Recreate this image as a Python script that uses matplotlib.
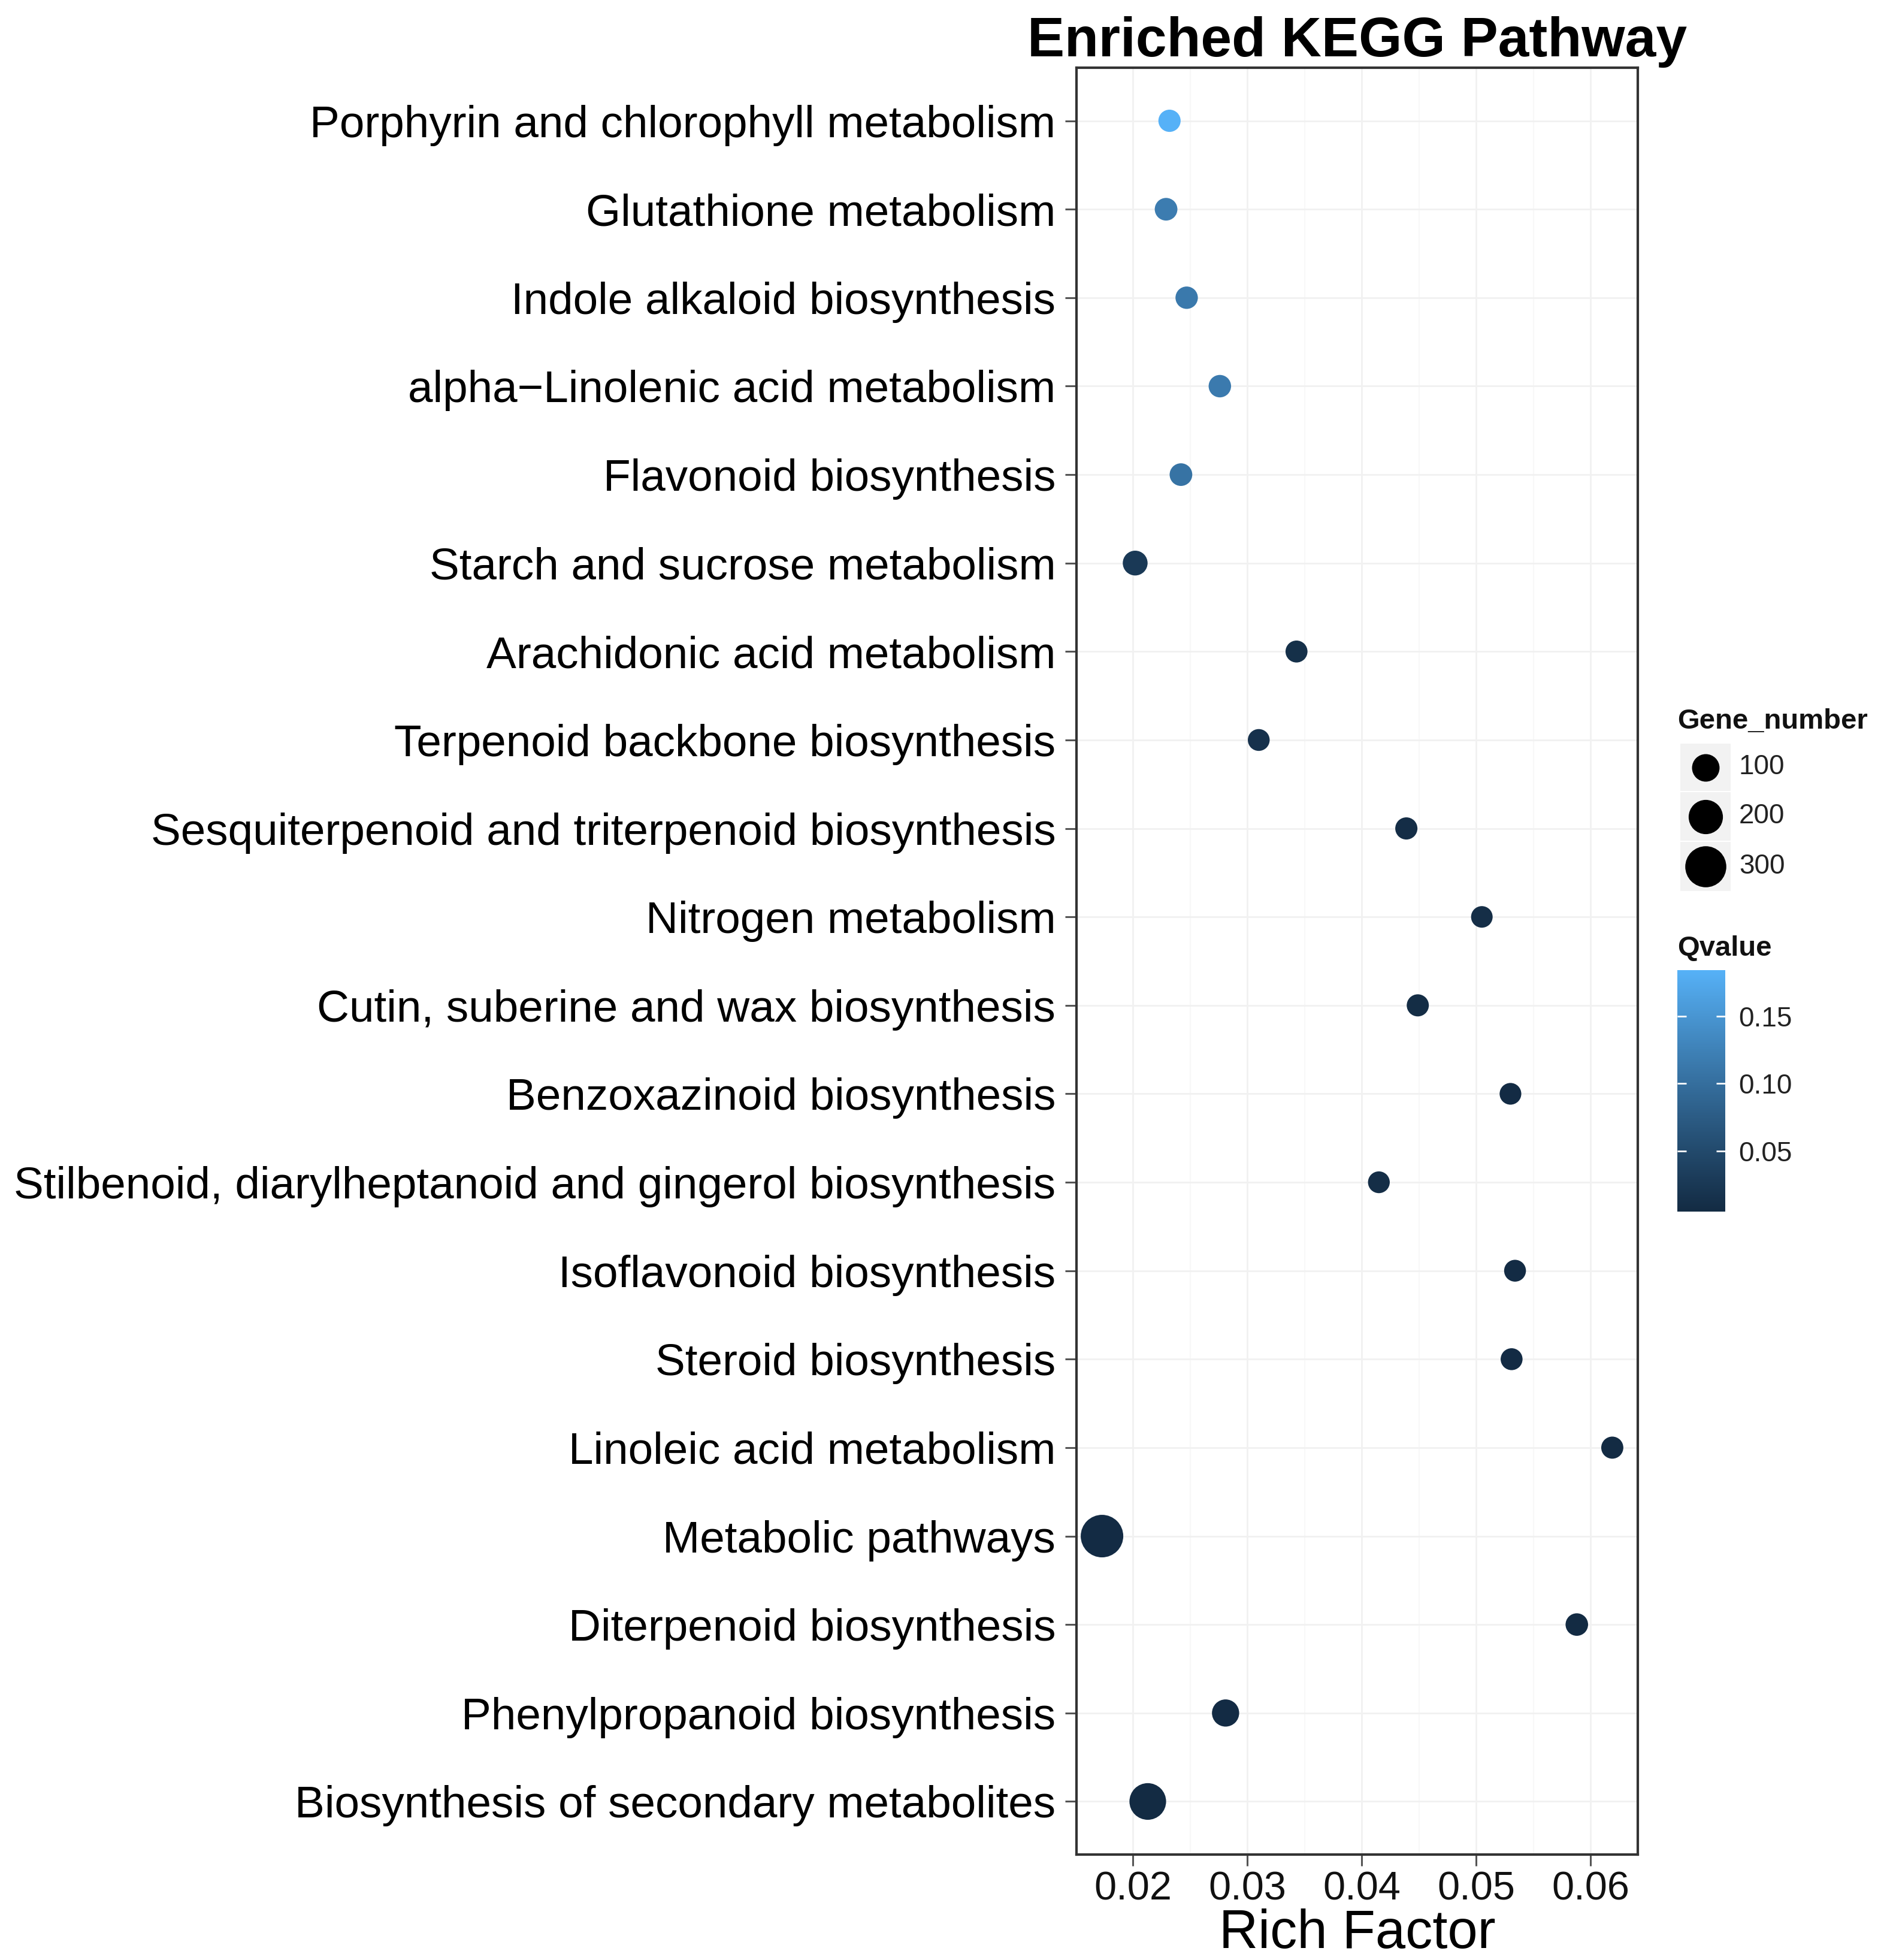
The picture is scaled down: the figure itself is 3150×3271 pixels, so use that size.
import numpy as np
import matplotlib
matplotlib.use("Agg")
import matplotlib.pyplot as plt
import matplotlib.colors as mcolors
from matplotlib.patches import Rectangle

plt.rcParams["font.family"] = ["Liberation Sans", "DejaVu Sans"]

# pathways, top to bottom
pathways = [
    "Porphyrin and chlorophyll metabolism",
    "Glutathione metabolism",
    "Indole alkaloid biosynthesis",
    "alpha\u2212Linolenic acid metabolism",
    "Flavonoid biosynthesis",
    "Starch and sucrose metabolism",
    "Arachidonic acid metabolism",
    "Terpenoid backbone biosynthesis",
    "Sesquiterpenoid and triterpenoid biosynthesis",
    "Nitrogen metabolism",
    "Cutin, suberine and wax biosynthesis",
    "Benzoxazinoid biosynthesis",
    "Stilbenoid, diarylheptanoid and gingerol biosynthesis",
    "Isoflavonoid biosynthesis",
    "Steroid biosynthesis",
    "Linoleic acid metabolism",
    "Metabolic pathways",
    "Diterpenoid biosynthesis",
    "Phenylpropanoid biosynthesis",
    "Biosynthesis of secondary metabolites",
]
rich_factor = [0.0232, 0.0229, 0.0247, 0.0276, 0.0242, 0.0202, 0.0343, 0.0310,
               0.0439, 0.0505, 0.0449, 0.0530, 0.0415, 0.0534, 0.0531, 0.0619,
               0.0173, 0.0588, 0.0281, 0.0213]
qvalue = [0.184, 0.118, 0.114, 0.116, 0.106, 0.026, 0.012, 0.015,
          0.009, 0.010, 0.008, 0.006, 0.010, 0.006, 0.006, 0.005,
          0.006, 0.005, 0.006, 0.0049]
gene_number = [22, 28, 24, 25, 28, 60, 18, 16, 21, 12, 20, 14, 15, 16, 17, 20,
               322, 26, 95, 235]

size_breaks = [100, 200, 300]
q_breaks = [0.05, 0.10, 0.15]

W, H, DPI = 3150, 3271, 100


# ggplot-like gradient (#132B43 -> #56B1F7) interpolated in CIELAB
def to_lab(c):
    rgb = np.array(mcolors.to_rgb(c))
    lin = np.where(rgb <= 0.04045, rgb / 12.92, ((rgb + 0.055) / 1.055) ** 2.4)
    m = np.array([[0.4124, 0.3576, 0.1805], [0.2126, 0.7152, 0.0722], [0.0193, 0.1192, 0.9505]])
    xyz = m @ lin / np.array([0.95047, 1.0, 1.08883])
    d = 6 / 29
    f = np.where(xyz > d ** 3, np.cbrt(xyz), xyz / (3 * d * d) + 4 / 29)
    return np.array([116 * f[1] - 16, 500 * (f[0] - f[1]), 200 * (f[1] - f[2])])


def from_lab(lab):
    fy = (lab[0] + 16) / 116
    f = np.array([fy + lab[1] / 500, fy, fy - lab[2] / 200])
    d = 6 / 29
    xyz = np.where(f > d, f ** 3, 3 * d * d * (f - 4 / 29)) * np.array([0.95047, 1.0, 1.08883])
    mi = np.array([[3.2406, -1.5372, -0.4986], [-0.9689, 1.8758, 0.0415], [0.0557, -0.2040, 1.0570]])
    lin = mi @ xyz
    rgb = np.where(lin <= 0.0031308, 12.92 * lin, 1.055 * np.clip(lin, 0, None) ** (1 / 2.4) - 0.055)
    return np.clip(rgb, 0, 1)


lo, hi = to_lab("#132B43"), to_lab("#56B1F7")
cmap = mcolors.ListedColormap([from_lab(lo + (hi - lo) * t) for t in np.linspace(0, 1, 256)])

# point size: diameter linear in gene number (px), converted to points^2
gmin, gmax = min(gene_number), max(gene_number)


def dot_area(v):
    d_px = 36 + (71 - 36) * (np.asarray(v, float) - gmin) / (gmax - gmin)
    return (d_px * 72 / DPI) ** 2


fig = plt.figure(figsize=(W / DPI, H / DPI), dpi=DPI)
ax = fig.add_axes([1797 / W, 1 - 3095 / H, (2734 - 1797) / W, (3095 - 113) / H])

ypos = np.arange(len(pathways))[::-1]
sc = ax.scatter(rich_factor, ypos, s=dot_area(gene_number), c=qvalue, cmap=cmap,
                vmin=min(qvalue), vmax=max(qvalue), linewidths=0, zorder=3)

span = max(rich_factor) - min(rich_factor)
ax.set_xlim(min(rich_factor) - 0.05 * span, max(rich_factor) + 0.05 * span)
ax.set_ylim(-0.6, len(pathways) - 0.4)
ax.set_xticks([0.02, 0.03, 0.04, 0.05, 0.06])
ax.set_xticks([0.025, 0.035, 0.045, 0.055], minor=True)
ax.set_xticklabels(["0.02", "0.03", "0.04", "0.05", "0.06"])
ax.set_yticks(ypos)
ax.set_yticklabels(pathways)
ax.set_axisbelow(True)
ax.grid(which="major", color="#F1F1F1", linewidth=2)
ax.grid(which="minor", axis="x", color="#F8F8F8", linewidth=1.5)

ax.tick_params(axis="y", length=14, width=2.2, color="#555555", labelsize=53.8, pad=11, labelcolor="black")
ax.tick_params(axis="x", which="major", length=14, width=2.2, color="#555555", labelsize=48, pad=6, labelcolor="#111111")
ax.tick_params(axis="x", which="minor", length=0)
for sp in ax.spines.values():
    sp.set_color("#333333")
    sp.set_linewidth(3)

ax.set_xlabel("Rich Factor", fontsize=65, labelpad=0)
ax.set_title("Enriched KEGG Pathway", fontsize=67, fontweight="bold", pad=13)

# colour bar for Qvalue
cax = fig.add_axes([2800 / W, 1 - 2022 / H, 80 / W, (2022 - 1619) / H])
cb = fig.colorbar(sc, cax=cax, ticks=q_breaks, format="%.2f")
cb.outline.set_visible(False)
cax.minorticks_off()
cax.tick_params(direction="in", length=11, width=2, color="white", left=True, right=True,
                labelsize=33, labelcolor="#222222", pad=16)

# size legend drawn in figure pixel space
lax = fig.add_axes([0, 0, 1, 1], facecolor="none")
lax.set_xlim(0, W)
lax.set_ylim(H, 0)
lax.axis("off")
lax.text(2800, 1204, "Gene_number", fontsize=34, fontweight="bold", va="center", ha="left", color="#111111")
key_top = [1240, 1321, 1404]
key_bot = [1321, 1404, 1488]
for v, t, b in zip(size_breaks, key_top, key_bot):
    lax.add_patch(Rectangle((2804, t), 86, b - t, facecolor="#F2F2F2", edgecolor="white", linewidth=1.5))
    cy = (t + b) / 2
    lax.scatter([2847], [cy], s=dot_area(v), color="black", linewidths=0)
    lax.text(2903, cy, str(v), fontsize=33, va="center", ha="left", color="#222222")
lax.text(2800, 1583, "Qvalue", fontsize=34, fontweight="bold", va="center", ha="left", color="#111111")

fig.savefig("out.png", dpi=DPI, facecolor="white")
